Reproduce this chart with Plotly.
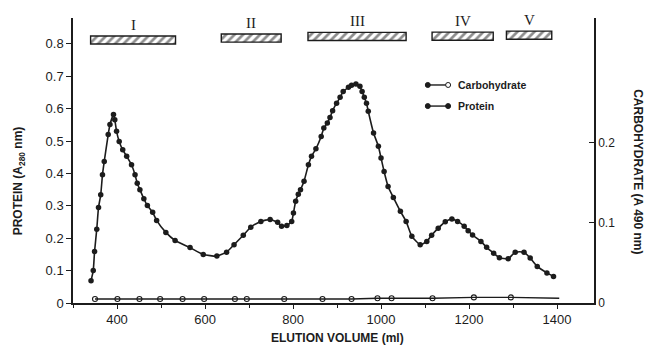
import plotly.graph_objects as go

# ---------------- data ----------------
volume_protein = [341, 346, 349, 354, 358, 363, 367, 371, 380, 384, 392, 395, 399, 405, 413, 422,
                  433, 441, 446, 452, 461, 469, 481, 490, 511, 532, 566, 596, 627, 649, 666, 687,
                  704, 727, 748, 765, 774, 786, 797, 801, 806, 812, 817, 825, 835, 842, 852, 864,
                  870, 878, 884, 890, 899, 907, 914, 926, 933, 943, 952, 957, 962, 967, 971, 983,
                  994, 1000, 1007, 1016, 1028, 1044, 1057, 1070, 1089, 1104, 1115, 1130, 1146, 1161,
                  1174, 1189, 1198, 1208, 1227, 1240, 1256, 1269, 1289, 1305, 1325, 1339, 1355, 1377, 1392]
protein = [0.069, 0.100, 0.159, 0.228, 0.295, 0.334, 0.396, 0.437, 0.520, 0.551, 0.582, 0.566, 0.530, 0.499, 0.473, 0.453,
           0.427, 0.396, 0.370, 0.350, 0.322, 0.301, 0.280, 0.255, 0.218, 0.193, 0.171, 0.150, 0.145, 0.157, 0.180, 0.209,
           0.234, 0.252, 0.258, 0.249, 0.237, 0.239, 0.252, 0.278, 0.314, 0.336, 0.350, 0.376, 0.427, 0.453, 0.476, 0.514,
           0.540, 0.556, 0.573, 0.594, 0.617, 0.635, 0.653, 0.666, 0.672, 0.676, 0.669, 0.653, 0.635, 0.617, 0.592, 0.525,
           0.484, 0.448, 0.406, 0.360, 0.326, 0.283, 0.252, 0.206, 0.180, 0.190, 0.209, 0.231, 0.251, 0.259,
           0.252, 0.237, 0.223, 0.210, 0.190, 0.172, 0.154, 0.140, 0.137, 0.157, 0.157, 0.139, 0.113, 0.093, 0.082]

volume_carb = [350, 401, 451, 498, 549, 598, 668, 695, 780, 867, 933, 992, 1024, 1117, 1211, 1295, 1405]
carbohydrate = [0.005, 0.005, 0.005, 0.005, 0.005, 0.005, 0.005, 0.005, 0.005, 0.005, 0.005, 0.006,
                0.006, 0.006, 0.007, 0.007, 0.006]

pool_labels = ["I", "II", "III", "IV", "V"]
pool_start = [340, 637, 834, 1116, 1285]
pool_end = [533, 773, 1057, 1255, 1388]
pool_level = [0.812, 0.818, 0.823, 0.824, 0.827]

x_ticks = [400, 600, 800, 1000, 1200, 1400]
protein_ticks = [0, 0.1, 0.2, 0.3, 0.4, 0.5, 0.6, 0.7, 0.8]
carb_ticks = [0, 0.1, 0.2]

INK = "#1c1c1c"
FONT = "Liberation Sans"

fig = go.Figure()

# hatched pool bars
fig.add_trace(go.Bar(
    orientation="h",
    y=pool_level,
    base=pool_start,
    x=[e - s for s, e in zip(pool_start, pool_end)],
    width=0.025,
    marker=dict(color="white", line=dict(color=INK, width=1.4),
                pattern=dict(shape="/", fgcolor=INK, bgcolor="white", size=6, solidity=0.45)),
    showlegend=False, hoverinfo="skip",
))

# protein
fig.add_trace(go.Scatter(
    x=volume_protein, y=protein, mode="lines+markers", name="Protein",
    line=dict(color=INK, width=1.6, shape="spline", smoothing=0.5),
    marker=dict(size=5.5, color=INK),
    showlegend=False,
))

# carbohydrate line (full extent) and its sample markers
fig.add_trace(go.Scatter(
    x=volume_carb, y=carbohydrate, mode="lines", name="Carbohydrate",
    yaxis="y2", line=dict(color=INK, width=1.4), showlegend=False,
))
fig.add_trace(go.Scatter(
    x=volume_carb[:-1], y=carbohydrate[:-1], mode="markers", name="Carbohydrate",
    yaxis="y2",
    marker=dict(size=5, symbol="circle-open", color=INK, line=dict(width=1.1, color=INK)),
    showlegend=False,
))

annotations = []
for lab, s, e, lvl in zip(pool_labels, pool_start, pool_end, pool_level):
    annotations.append(dict(
        x=(s + e) / 2, y=lvl + 0.0125, xref="x", yref="y", text=lab, showarrow=False,
        yanchor="bottom", xanchor="center", yshift=1,
        font=dict(family="Liberation Serif", size=15, color=INK),
    ))

annotations += [
    dict(x=-0.102, y=0.43, xref="paper", yref="paper", text="PROTEIN (A<sub>280</sub> nm)",
         textangle=-90, showarrow=False, xanchor="center", yanchor="middle",
         font=dict(family=FONT, size=12, color=INK, weight="bold")),
    dict(x=1.084, y=0.46, xref="paper", yref="paper", text="CARBOHYDRATE (A 490 nm)",
         textangle=90, showarrow=False, xanchor="center", yanchor="middle",
         font=dict(family=FONT, size=12, color=INK, weight="bold")),
    dict(x=0.507, y=-0.123, xref="paper", yref="paper", text="ELUTION VOLUME (ml)",
         showarrow=False, xanchor="center", yanchor="middle",
         font=dict(family=FONT, size=12, color=INK, weight="bold")),
    dict(x=0.735, y=0.765, xref="paper", yref="paper", text="Carbohydrate", xanchor="left",
         yanchor="middle", showarrow=False, font=dict(family=FONT, size=10.5, color=INK, weight="bold")),
    dict(x=0.735, y=0.691, xref="paper", yref="paper", text="Protein", xanchor="left",
         yanchor="middle", showarrow=False, font=dict(family=FONT, size=10.5, color=INK, weight="bold")),
]

# custom legend glyphs
lx0, lx1 = 0.681, 0.720
shapes = []
for ly, right_open in [(0.765, True), (0.691, False)]:
    shapes.append(dict(type="line", xref="paper", yref="paper", x0=lx0, x1=lx1, y0=ly, y1=ly,
                       line=dict(color=INK, width=1.4)))
    for cx, open_ in [(lx0, False), (lx1, right_open)]:
        shapes.append(dict(type="circle", xref="paper", yref="paper", xsizemode="pixel",
                           ysizemode="pixel", xanchor=cx, yanchor=ly, x0=-2.5, x1=2.5, y0=-2.5, y1=2.5,
                           fillcolor="white" if open_ else INK, line=dict(color=INK, width=1)))

axis_common = dict(showgrid=False, zeroline=False, showline=True, linecolor=INK, linewidth=1.5,
                   tickcolor=INK, tickwidth=1.3)

fig.update_layout(
    width=647, height=348,
    margin=dict(l=73, r=53, t=18, b=45),
    plot_bgcolor="white", paper_bgcolor="white",
    font=dict(family=FONT, color=INK),
    barmode="overlay",
    xaxis=dict(range=[300, 1484], tickvals=x_ticks, ticks="outside", ticklen=4,
               minor=dict(tickmode="linear", tick0=300, dtick=100, ticks="outside", ticklen=3,
                          tickcolor=INK),
               tickfont=dict(size=13, family=FONT, color=INK), **axis_common),
    yaxis=dict(range=[0, 0.88], type="linear", tickvals=protein_ticks, ticks="outside", ticklen=5,
               tickfont=dict(size=13, family=FONT, color=INK), **axis_common),
    yaxis2=dict(range=[0, 0.355], overlaying="y", side="right", tickvals=carb_ticks,
                ticks="inside", ticklen=5, tickfont=dict(size=12, family=FONT, color=INK),
                **axis_common),
    annotations=annotations,
    shapes=shapes,
)

fig.write_html("out.html")
